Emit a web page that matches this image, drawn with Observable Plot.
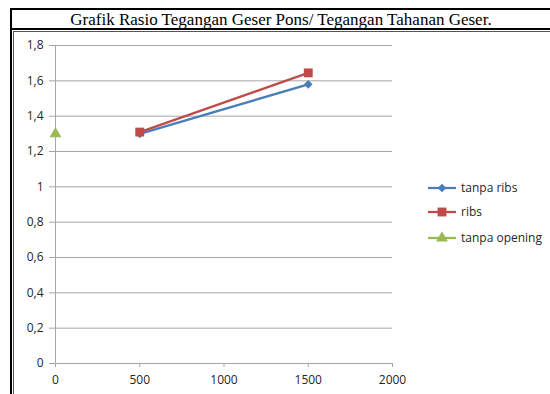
<!DOCTYPE html>
<html><head><meta charset="utf-8">
<script src="https://cdn.jsdelivr.net/npm/d3@7"></script>
<script src="https://cdn.jsdelivr.net/npm/@observablehq/plot@0.6"></script>
<style>
body{margin:0;background:#fff;}
#wrap{position:relative;width:550px;height:394px;overflow:hidden;background:#fff;}
#wrap svg.plot{position:absolute;left:0;top:0;}
.ln{position:absolute;background:#000;}
#title{position:absolute;left:12px;top:10px;width:538px;height:19px;line-height:19px;text-align:center;
  font-family:"Liberation Serif","Times New Roman",serif;font-size:17px;color:#000;}
#legend{position:absolute;left:426px;top:178px;font-family:"Open Sans",sans-serif;font-size:12px;color:#262626;}
#legend .row{position:absolute;left:0;height:20px;width:130px;white-space:nowrap;}
#legend .row span{position:absolute;left:35px;top:1px;line-height:17px;}
#legend .row svg{position:absolute;left:0;top:0;}
</style></head><body><div id="wrap"></div>
<script>
const seriesNames = ["tanpa ribs", "ribs", "tanpa opening"];
const seriesColors = ["#4a7ebb", "#be4b48", "#98b954"];
const seriesSymbols = ["diamond2", "square", "triangle"];
const tanpaRibsX = [500, 1500];
const tanpaRibsY = [1.30, 1.58];
const ribsX = [500, 1500];
const ribsY = [1.31, 1.645];
const tanpaOpeningX = [0];
const tanpaOpeningY = [1.30];
const xTicks = [0, 500, 1000, 1500, 2000];
const yTicks = [0, 0.2, 0.4, 0.6, 0.8, 1, 1.2, 1.4, 1.6, 1.8];
const titleText = "Grafik Rasio Tegangan Geser Pons/ Tegangan Tahanan Geser.";

const seriesX = [tanpaRibsX, ribsX, tanpaOpeningX];
const seriesY = [tanpaRibsY, ribsY, tanpaOpeningY];
const rows = [];
seriesNames.forEach((name, i) => seriesX[i].forEach((x, j) => rows.push({series: name, x, y: seriesY[i][j]})));
const symbolR = {"diamond2": 3.9, "square": 5.0, "triangle": 4.4};
const fmt = d => String(+d.toFixed(1)).replace(".", ",");

const marks = [
  Plot.ruleY(yTicks, {stroke: "#a6a6a6", strokeWidth: 1}),
  Plot.ruleX([0], {stroke: "#a6a6a6", strokeWidth: 1}),
  Plot.axisY({ticks: yTicks, tickSize: 6, tickPadding: 6, tickFormat: fmt, stroke: "#a6a6a6", label: null}),
  Plot.axisX({ticks: xTicks, tickSize: 4, tickPadding: 8, tickFormat: d => String(d), stroke: "#a6a6a6", label: null})
];
seriesNames.forEach((name, i) => {
  const data = rows.filter(r => r.series === name);
  if (data.length > 1) marks.push(Plot.line(data, {x: "x", y: "y", stroke: seriesColors[i], strokeWidth: 2.25}));
  marks.push(Plot.dot(data, {x: "x", y: "y", symbol: () => seriesSymbols[i], fill: seriesColors[i], stroke: "none", r: symbolR[seriesSymbols[i]]}));
});

const chart = Plot.plot({
  width: 550, height: 394,
  marginLeft: 55, marginRight: 158, marginTop: 45, marginBottom: 31,
  x: {domain: [0, 2000]},
  y: {domain: [0, 1.8]},
  symbol: {type: "identity"},
  style: {fontFamily: "Open Sans, sans-serif", fontSize: "12px", color: "#262626", background: "transparent"},
  marks
});
chart.classList.add("plot");
const wrap = document.getElementById("wrap");
wrap.appendChild(chart);

// frame lines
function ln(l, t, w, h, c) { const d = document.createElement("div"); d.className = "ln"; Object.assign(d.style, {left: l+"px", top: t+"px", width: w+"px", height: h+"px", background: c || "#000"}); wrap.appendChild(d); }
ln(10, 8, 540, 2);
ln(10, 8, 2, 386);
ln(10, 28, 540, 2);
ln(13, 31, 537, 1, "#555");
ln(13, 31, 1, 363, "#555");

const t = document.createElement("div"); t.id = "title"; t.textContent = titleText; wrap.appendChild(t);

// legend
const lg = document.createElement("div"); lg.id = "legend"; wrap.appendChild(lg);
const rowTops = [0, 24, 50];
seriesNames.forEach((name, i) => {
  const r = document.createElement("div"); r.className = "row"; r.style.top = rowTops[i] + "px";
  const s = d3.create("svg").attr("width", 32).attr("height", 20);
  s.append("line").attr("x1", 2).attr("x2", 30).attr("y1", 10).attr("y2", 10).attr("stroke", seriesColors[i]).attr("stroke-width", 2.25);
  const symMap = {"diamond2": d3.symbolDiamond2, "square": d3.symbolSquare, "triangle": d3.symbolTriangle};
  const rr = symbolR[seriesSymbols[i]];
  s.append("path").attr("transform", "translate(16,10)").attr("d", d3.symbol(symMap[seriesSymbols[i]], Math.PI*rr*rr)()).attr("fill", seriesColors[i]);
  r.appendChild(s.node());
  const sp = document.createElement("span"); sp.textContent = name; r.appendChild(sp);
  lg.appendChild(r);
});
</script></body></html>
